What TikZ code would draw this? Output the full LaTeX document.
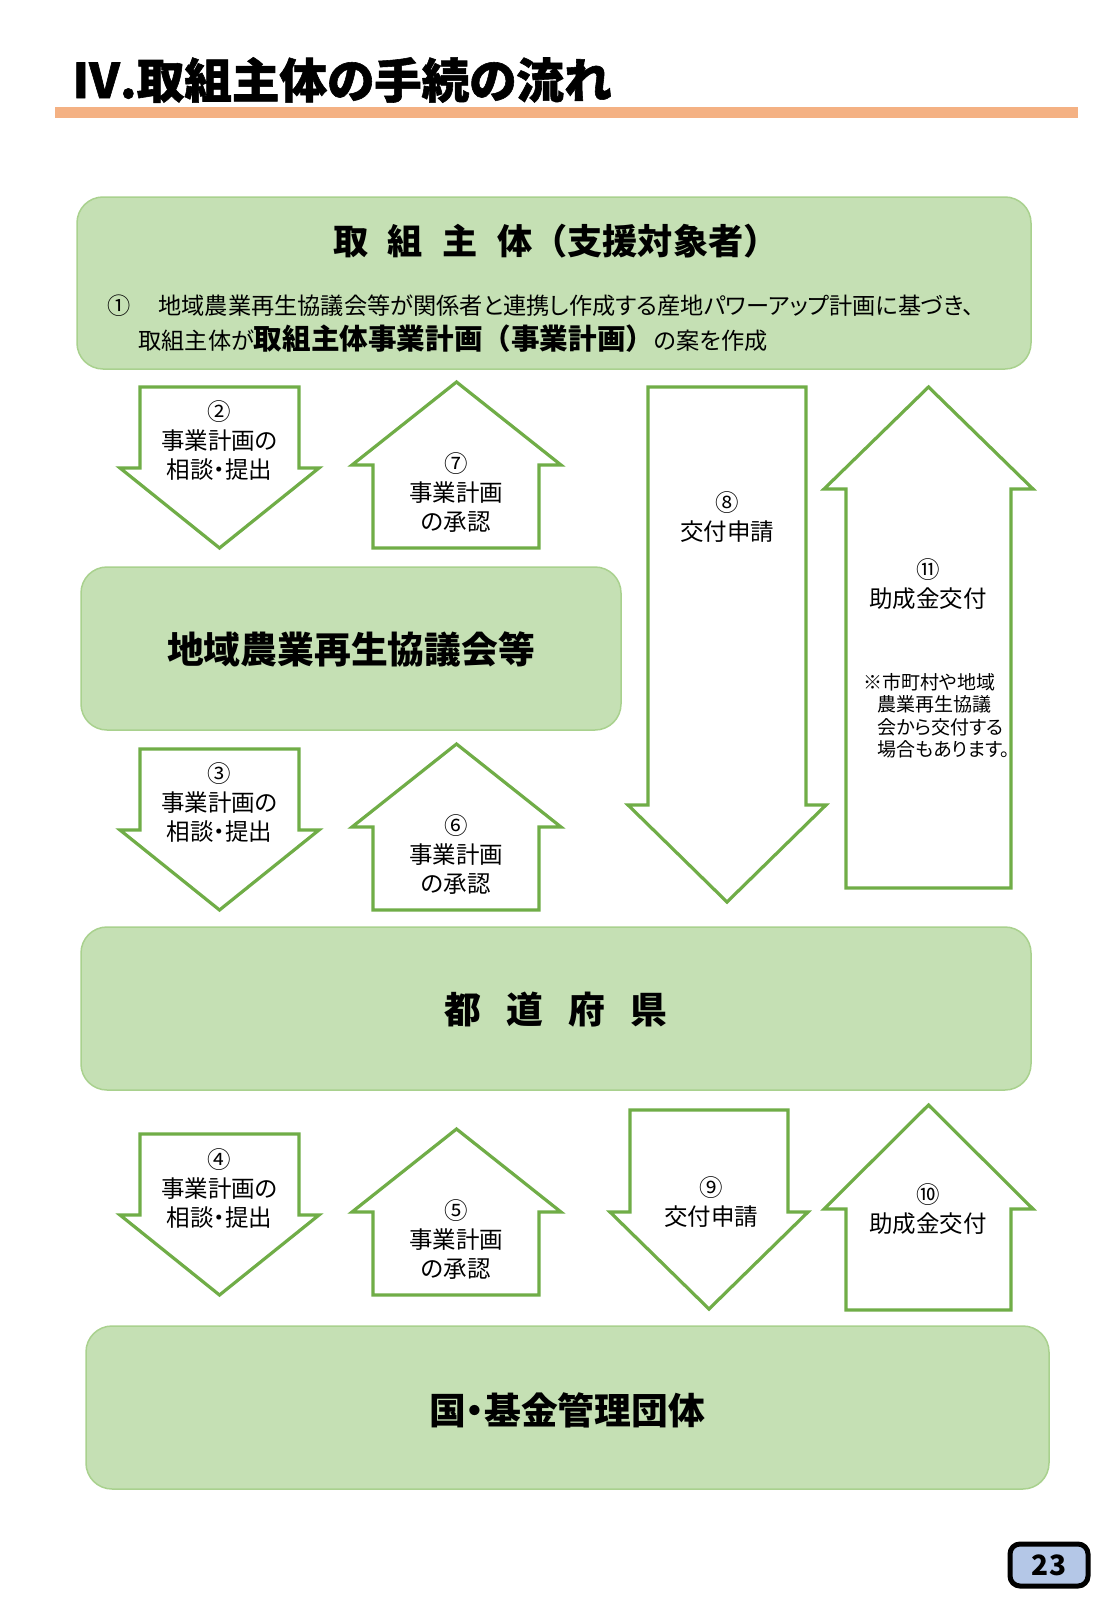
\documentclass[tikz,border=0pt]{standalone}
\usepackage{fontspec}
\setmainfont{Noto Sans CJK JP}[RawFeature=+palt]
\newfontfamily\fwfont{Noto Sans CJK JP}
\newfontfamily\heavyfont{Noto Sans CJK JP}[RawFeature=+palt, BoldFeatures={FakeBold=1.2}]
\definecolor{boxfill}{HTML}{C5E0B4}
\definecolor{boxline}{HTML}{A9D18E}
\definecolor{arrgreen}{HTML}{70AD47}
\definecolor{barorange}{HTML}{F4B183}
\definecolor{pagefill}{HTML}{B4C7E7}
\begin{document}
\begin{tikzpicture}[x=0.5pt,y=-0.5pt,
  stagebox/.style={draw=boxline, line width=0.75pt, fill=boxfill, rounded corners=13pt},
  flowarrow/.style={draw=arrgreen, line width=1.6pt, fill=white, line join=miter},
  arrtext/.style={font=\fontsize{11.75}{14.5}\selectfont, align=center, inner sep=0pt},
  boxtitle/.style={font=\bfseries\fontsize{18.4}{18.4}\selectfont, inner sep=0pt},
  bodytext/.style={font=\fontsize{11.6}{14}\selectfont, inner sep=0pt, anchor=west}]
\useasboundingbox (0,0) rectangle (1107,1600);
\fill[white] (0,0) rectangle (1107,1600);
% title
\node[anchor=west, inner sep=0pt, font=\heavyfont\bfseries\fontsize{23.8}{23.8}\selectfont] (title) at (72,80) {Ⅳ.取組主体の手続の流れ};
\fill[barorange] (55,107) rectangle (1078,118);
% stage boxes
\draw[stagebox] (77,197) rectangle (1031,369);
\draw[stagebox] (81,567) rectangle (621,730);
\draw[stagebox] (81,927) rectangle (1031,1090);
\draw[stagebox] (86,1326) rectangle (1049,1489);
\node[font=\fwfont\bfseries\fontsize{17.6}{17.6}\selectfont, inner sep=0pt] (b1title) at (556,241) {取\hspace{0.55em}組\hspace{0.55em}主\hspace{0.55em}体（支援対象者）};
\node[bodytext] (b1line1) at (107,306) {①\hspace{1.2em}地域農業再生協議会等が関係者と連携し作成する産地パワーアップ計画に基づき、};
\node[bodytext] (b1line2) at (138,339) {取組主体が{\fwfont\bfseries\fontsize{14.3}{15}\selectfont 取組主体事業計画（事業計画）}の案を作成};
\node[boxtitle] (b2) at (351,649) {地域農業再生協議会等};
\node[boxtitle] (b3) at (556,1010) {都\hspace{0.68em}道\hspace{0.68em}府\hspace{0.68em}県};
\node[boxtitle] (b4) at (567,1410) {国・基金管理団体};
% left column arrows (down) and (up), three levels
\foreach \dy/\n/\m/\a/\b in {0/②/⑦/b/c, 362/③/⑥/d/e, 747/④/⑤/f/g}{
  \begin{scope}[shift={(0,\dy)}]
    \draw[flowarrow] (140,387) -- (299,387) -- (299,468) -- (319,468) -- (219.5,548) -- (120,468) -- (140,468) -- cycle;
    \draw[flowarrow] (456.5,382) -- (561,465) -- (539,465) -- (539,548) -- (373,548) -- (373,465) -- (352,465) -- cycle;
    \node[arrtext] (t\a) at (219.5,441) {\n\\事業計画の\\相談・提出};
    \node[arrtext] (t\b) at (456,493) {\m\\事業計画\\の承認};
  \end{scope}
}
% long arrows
\draw[flowarrow] (648,387) -- (806,387) -- (806,805) -- (826,805) -- (727,902) -- (628,805) -- (648,805) -- cycle;
\draw[flowarrow] (928.5,387) -- (1033,489) -- (1011,489) -- (1011,888) -- (846,888) -- (846,489) -- (824,489) -- cycle;
\node[arrtext] (t8) at (727,517) {⑧\\交付申請};
\node[arrtext] (t11) at (928,584) {⑪\\助成金交付};
\node[anchor=north west, align=left, inner sep=0pt, font=\fontsize{9.5}{11.25}\selectfont] (note) at (863,673)
  {※市町村や地域\\\hspace{0.75em}農業再生協議\\\hspace{0.75em}会から交付する\\\hspace{0.75em}場合もあります。};
% bottom right arrows
\draw[flowarrow] (630,1110) -- (788,1110) -- (788,1212) -- (808,1212) -- (709,1309) -- (610,1212) -- (630,1212) -- cycle;
\draw[flowarrow] (928.5,1105) -- (1033,1209) -- (1011,1209) -- (1011,1310) -- (846,1310) -- (846,1209) -- (824,1209) -- cycle;
\node[arrtext] (t9) at (711,1202) {⑨\\交付申請};
\node[arrtext] (t10) at (928,1209) {⑩\\助成金交付};
% page number
\node[draw=black, line width=2.5pt, fill=pagefill, rounded corners=5pt, minimum width=39pt, minimum height=21pt, inner sep=0pt, font=\bfseries\fontsize{14}{14}\selectfont] (page) at (1049,1565) {23};
\end{tikzpicture}
\end{document}
